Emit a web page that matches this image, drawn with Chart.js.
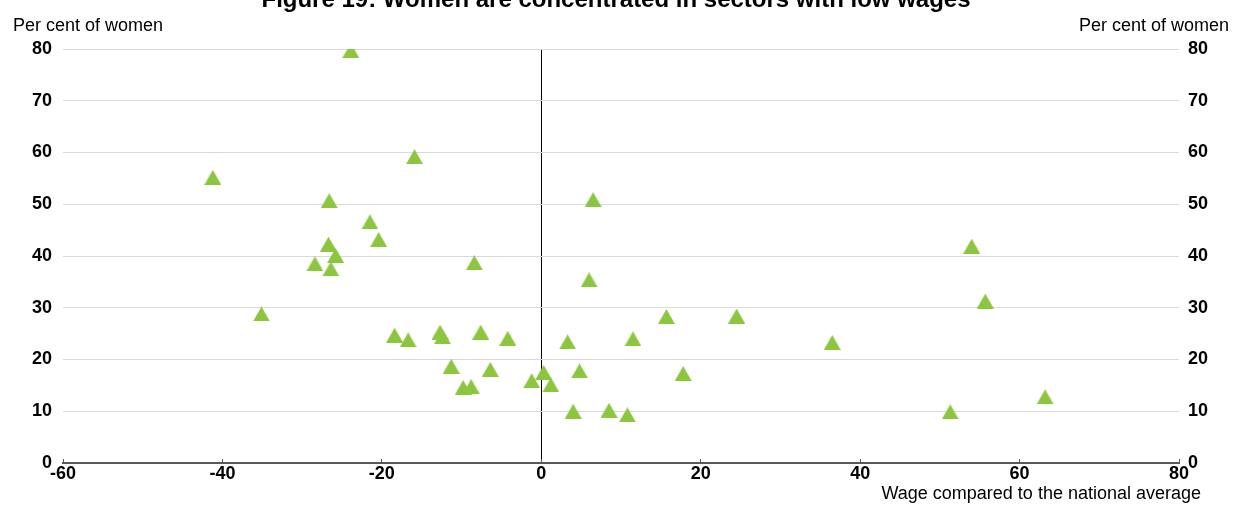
<!DOCTYPE html>
<html>
<head>
<meta charset="utf-8">
<script src="https://cdn.jsdelivr.net/npm/chart.js@4.4.1/dist/chart.umd.min.js"></script>
<style>
  html, body { margin: 0; padding: 0; background: #fff; }
  #wrap { position: relative; width: 1234px; height: 505px; }
</style>
</head>
<body>
<div id="wrap"><canvas id="myChart"></canvas></div>
<script>
// wage compared to the national average (per cent) for each sector
const wageGap = [
  -23.9, -41.2, -15.9, -26.6, -21.5, -20.4, -26.7, -25.8, -28.4, -26.4,
  -8.4, -35.1, -18.4, -16.7, -12.7, -12.4, -7.6, -4.2, -11.3, -6.4,
  -9.8, -8.8, -1.2, 0.3, 1.2, 6.5, 6.0, 15.7, 24.5, 3.3,
  11.5, 36.5, 4.8, 17.8, 4.0, 8.5, 10.8, 54.0, 55.7, 63.2, 51.3
];
// share of women in the sector (per cent)
const womenShare = [
  79.7, 55.2, 59.2, 50.7, 46.6, 43.2, 42.3, 40.1, 38.5, 37.5,
  38.7, 28.8, 24.7, 23.8, 25.3, 24.4, 25.3, 24.1, 18.7, 18.1,
  14.6, 14.8, 15.9, 17.5, 15.1, 50.9, 35.4, 28.3, 28.4, 23.4,
  24.0, 23.3, 17.8, 17.3, 10.0, 10.2, 9.3, 41.9, 31.3, 12.8, 9.9
];

const xMin = -60, xMax = 80, xStep = 20;
const yMin = 0, yMax = 80, yStep = 10;

const chartTitle = 'Figure 19: Women are concentrated in sectors with low wages';
const yTitle = 'Per cent of women';
const xTitle = 'Wage compared to the national average';

const green = '#8cc63f';

// triangle marker, centred on its bounding box
function makeTriangle() {
  const c = document.createElement('canvas');
  c.width = 17;
  c.height = 15;
  const g = c.getContext('2d');
  g.fillStyle = green;
  g.beginPath();
  g.moveTo(8.5, 0);
  g.lineTo(17, 15);
  g.lineTo(0, 15);
  g.closePath();
  g.fill();
  return c;
}

const points = wageGap.map((x, i) => ({ x: x, y: womenShare[i] }));

const labelsPlugin = {
  id: 'labels',
  afterDraw(chart) {
    const ctx = chart.ctx;
    const area = chart.chartArea;
    ctx.save();
    ctx.fillStyle = '#000';
    ctx.textBaseline = 'alphabetic';

    ctx.font = 'bold 24px "Liberation Sans", Arial, sans-serif';
    ctx.textAlign = 'center';
    ctx.fillText(chartTitle, 616, 7);

    ctx.font = '18px "Liberation Sans", Arial, sans-serif';
    ctx.textAlign = 'left';
    ctx.fillText(yTitle, 13, 31);
    ctx.textAlign = 'right';
    ctx.fillText(yTitle, 1229, 31);

    ctx.fillText(xTitle, 1201, area.bottom + 36);
    ctx.restore();
  }
};

Chart.defaults.font.family = '"Liberation Sans", Arial, sans-serif';
Chart.defaults.color = '#000';

const ctx = document.getElementById('myChart').getContext('2d');
new Chart(ctx, {
  type: 'scatter',
  data: {
    datasets: [
      {
        label: 'Sectors',
        data: points,
        pointStyle: makeTriangle(),
        pointRadius: 9,
        pointHoverRadius: 9,
        backgroundColor: green,
        borderWidth: 0,
        yAxisID: 'y',
      },
    ],
  },
  options: {
    responsive: true,
    maintainAspectRatio: false,
    animation: false,
    layout: { padding: { top: 49, left: 0, right: 0, bottom: 0 } },
    plugins: {
      legend: { display: false },
      tooltip: { enabled: false },
      title: { display: false },
    },
    scales: {
      x: {
        type: 'linear',
        min: xMin,
        max: xMax,
        afterFit: (s) => { s.height = 42; },
        ticks: {
          stepSize: xStep,
          padding: 4,
          font: { size: 18, weight: 'bold' },
          maxRotation: 0,
        },
        grid: {
          color: (c) => (c.tick && c.tick.value === 0 ? '#000' : 'rgba(0,0,0,0)'),
          lineWidth: 1,
          tickColor: '#595959',
          tickLength: -4,
        },
        border: { display: true, color: '#595959', width: 2 },
      },
      y: {
        position: 'left',
        min: yMin,
        max: yMax,
        afterFit: (s) => { s.width = 63; },
        ticks: {
          stepSize: yStep,
          padding: 11,
          font: { size: 18, weight: 'bold' },
        },
        grid: { color: '#d9d9d9', lineWidth: 1, drawTicks: false },
        border: { display: false },
      },
      y2: {
        position: 'right',
        min: yMin,
        max: yMax,
        afterFit: (s) => { s.width = 55; },
        ticks: {
          stepSize: yStep,
          padding: 9,
          font: { size: 18, weight: 'bold' },
        },
        grid: { drawOnChartArea: false, drawTicks: false },
        border: { display: false },
      },
    },
  },
  plugins: [labelsPlugin],
});
</script>
</body>
</html>
